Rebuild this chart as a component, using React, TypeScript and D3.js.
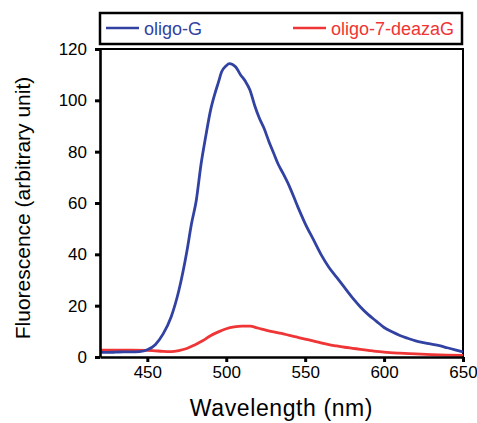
import * as d3 from 'd3';
import React, { useRef, useEffect } from 'react';

// emission spectra
const wavelengthG = [420, 425, 430, 435, 440, 445, 450, 455, 460, 465, 470, 475, 478, 481, 484, 487, 490, 493, 495, 497, 500, 502, 504, 506, 509, 512, 515, 518, 521, 524, 527, 530, 533, 536, 540, 545, 550, 555, 560, 565, 570, 575, 580, 585, 590, 595, 600, 605, 610, 615, 620, 625, 630, 635, 640, 645, 650];
const fluorG = [1.8, 1.8, 1.9, 2, 2, 2.1, 2.8, 4.8, 9, 15.5, 26, 41, 52, 61, 75, 86, 96, 103, 107, 111, 113.5, 114.3, 114, 113, 110, 107.5, 104, 98, 93, 89, 84, 79.5, 75, 71.5, 66.5, 59, 52, 46, 40, 35, 31, 27, 23, 19.5, 16.5, 14, 11.5, 9.8, 8.4, 7.3, 6.3, 5.6, 5, 4.4, 3.6, 2.8, 2];

const wavelengthD = [420, 430, 440, 450, 455, 460, 465, 470, 475, 480, 485, 490, 495, 500, 505, 510, 515, 520, 525, 530, 535, 540, 545, 550, 555, 560, 565, 570, 575, 580, 585, 590, 595, 600, 610, 620, 630, 640, 650];
const fluorD = [2.7, 2.7, 2.7, 2.6, 2.4, 2.2, 2.1, 2.5, 3.3, 4.7, 6.3, 8.3, 9.8, 11, 11.7, 12, 12, 11.3, 10.5, 9.8, 9.2, 8.4, 7.7, 7, 6.3, 5.5, 4.8, 4.3, 3.8, 3.4, 3, 2.6, 2.2, 1.9, 1.5, 1.2, 0.9, 0.7, 0.6];

const xTicks = [450, 500, 550, 600, 650];
const yTicks = [0, 20, 40, 60, 80, 100, 120];

const seriesNames = ['oligo-G', 'oligo-7-deazaG'];
const seriesColors = ['#3242a2', '#ef3535'];

function App() {
  const ref = useRef<SVGSVGElement>(null);

  useEffect(() => {
    const width = 477;
    const height = 423;
    const margin = { top: 49, right: 14, bottom: 66, left: 100 };
    const font = 'Arial, "Liberation Sans", sans-serif';

    const svg = d3.select(ref.current);
    svg.selectAll('*').remove();

    const x = d3.scaleLinear().domain([420, 650]).range([margin.left, width - margin.right]);
    const y = d3.scaleLinear().domain([0, 120]).range([height - margin.bottom, margin.top]);

    const series = [
      { name: seriesNames[0], color: seriesColors[0], pts: wavelengthG.map((w, i) => [w, fluorG[i]]) },
      { name: seriesNames[1], color: seriesColors[1], pts: wavelengthD.map((w, i) => [w, fluorD[i]]) },
    ];

    // frame top + right
    svg.append('path')
      .attr('d', `M${x(420)},${y(120)}H${x(650)}V${y(0)}`)
      .attr('fill', 'none').attr('stroke', '#000').attr('stroke-width', 2);

    const line = d3.line<number[]>()
      .x(d => x(d[0]))
      .y(d => y(d[1]))
      .curve(d3.curveMonotoneX);

    // red under blue
    [series[1], series[0]].forEach(s => {
      svg.append('path')
        .datum(s.pts)
        .attr('d', line)
        .attr('fill', 'none')
        .attr('stroke', s.color)
        .attr('stroke-width', 2.8)
        .attr('stroke-linejoin', 'round');
    });

    const xAxis = svg.append('g')
      .attr('transform', `translate(0,${y(0)})`)
      .call(d3.axisBottom(x).tickValues(xTicks).tickSize(5).tickPadding(4).tickSizeOuter(0));
    xAxis.select('.domain').attr('stroke-width', 2.6);
    xAxis.selectAll('.tick line').attr('stroke-width', 3);
    xAxis.selectAll('text').attr('font-size', 17).attr('font-family', font).attr('fill', '#000');

    const yAxis = svg.append('g')
      .attr('transform', `translate(${x(420)},0)`)
      .call(d3.axisLeft(y).tickValues(yTicks).tickSize(5).tickPadding(8).tickSizeOuter(0));
    yAxis.select('.domain').attr('stroke-width', 2.6);
    yAxis.selectAll('.tick line').attr('stroke-width', 3);
    yAxis.selectAll('text').attr('font-size', 17).attr('font-family', font).attr('fill', '#000');

    // axis titles
    svg.append('text')
      .attr('x', (x(420) + x(650)) / 2)
      .attr('y', 416)
      .attr('text-anchor', 'middle')
      .attr('font-size', 23).attr('font-family', font)
      .attr('letter-spacing', 0.6)
      .text('Wavelength (nm)');

    svg.append('text')
      .attr('transform', `translate(30,${(y(0) + y(120)) / 2 + 5}) rotate(-90)`)
      .attr('text-anchor', 'middle')
      .attr('font-size', 21).attr('font-family', font)
      .text('Fluorescence (arbitrary unit)');

    // legend
    const lg = svg.append('g');
    lg.append('rect')
      .attr('x', 100).attr('y', 13).attr('width', 362).attr('height', 31)
      .attr('fill', '#fff').attr('stroke', '#000').attr('stroke-width', 2.5);
    const legendX = [106, 293];
    series.forEach((s, i) => {
      lg.append('line')
        .attr('x1', legendX[i]).attr('x2', legendX[i] + 33)
        .attr('y1', 28).attr('y2', 28)
        .attr('stroke', s.color).attr('stroke-width', 2.6);
      lg.append('text')
        .attr('x', legendX[i] + 38).attr('y', 34.5)
        .attr('font-size', 18).attr('font-family', font)
        .attr('fill', s.color)
        .text(s.name);
    });
  }, []);

  return (
    <svg ref={ref} width={477} height={423} style={{ position: 'absolute', left: 0, top: 0 }}></svg>
  );
}

export default App;
